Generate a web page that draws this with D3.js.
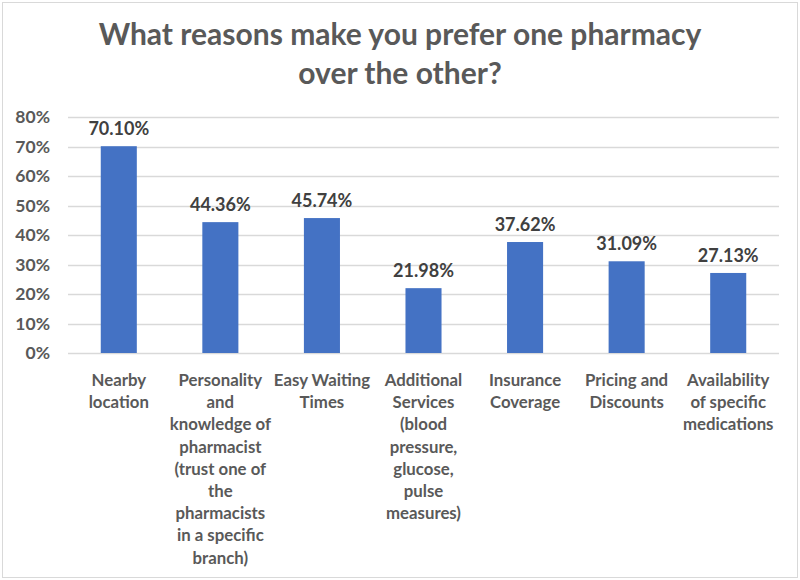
<!DOCTYPE html>
<html>
<head>
<meta charset="utf-8">
<script src="https://cdn.jsdelivr.net/npm/d3@7"></script>
<style>
  body { margin: 0; background: #fff; }
  text { font-family: Lato, "Open Sans", sans-serif; }
</style>
</head>
<body>
<div id="chart"></div>
<script>
var categories = [
  "Nearby\nlocation",
  "Personality\nand\nknowledge of\npharmacist\n(trust one of\nthe\npharmacists\nin a specific\nbranch)",
  "Easy Waiting\nTimes",
  "Additional\nServices\n(blood\npressure,\nglucose,\npulse\nmeasures)",
  "Insurance\nCoverage",
  "Pricing and\nDiscounts",
  "Availability\nof specific\nmedications"
];
var values = [70.10, 44.36, 45.74, 21.98, 37.62, 31.09, 27.13];
var yTicks = [0, 10, 20, 30, 40, 50, 60, 70, 80];
var titleLines = ["What reasons make you prefer one pharmacy", "over the other?"];

var width = 800, height = 580;
var margin = { top: 117, left: 68, right: 21, bottom: 227 };

var svg = d3.select("#chart").append("svg")
            .attr("width", width)
            .attr("height", height);

svg.append("rect")
   .attr("x", 2.5).attr("y", 2.5)
   .attr("width", width - 5).attr("height", height - 5)
   .attr("fill", "#fff")
   .attr("stroke", "#d9d9d9");

// title
svg.append("g").selectAll("text")
   .data(titleLines)
 .enter().append("text")
   .attr("x", width / 2)
   .attr("y", (d, i) => 45 + i * 39)
   .attr("text-anchor", "middle")
   .attr("fill", "#595959")
   .style("font-size", "30px")
   .style("font-weight", "bold")
   .text(d => d);

var x = d3.scaleBand()
          .domain(categories)
          .range([margin.left, width - margin.right])
          .paddingInner(0.645)
          .paddingOuter(0.3225);

var y = d3.scaleLinear()
          .domain([0, 80])
          .range([height - margin.bottom, margin.top]);

// gridlines
svg.append("g")
   .selectAll("line")
   .data(yTicks)
 .enter().append("line")
   .attr("x1", margin.left)
   .attr("x2", width - margin.right)
   .attr("y1", d => Math.round(y(d)) + 0.5)
   .attr("y2", d => Math.round(y(d)) + 0.5)
   .attr("stroke", "#d9d9d9")
   .attr("stroke-width", 1.5);

// y axis labels
var yAxis = svg.append("g")
   .attr("transform", "translate(" + margin.left + ",0)")
   .call(d3.axisLeft(y).tickValues(yTicks).tickFormat(d => d + "%").tickSize(0).tickPadding(18));
yAxis.select(".domain").remove();
yAxis.selectAll("text")
     .attr("fill", "#595959")
     .style("font-family", "Lato, sans-serif")
     .style("font-size", "17.5px")
     .style("font-weight", "bold");

// bars
svg.append("g")
   .selectAll("rect")
   .data(values)
 .enter().append("rect")
   .attr("x", (d, i) => x(categories[i]))
   .attr("width", x.bandwidth())
   .attr("y", d => y(d))
   .attr("height", d => y(0) - y(d))
   .attr("fill", "#4472c4");

// value labels
svg.append("g")
   .selectAll("text")
   .data(values)
 .enter().append("text")
   .attr("x", (d, i) => x(categories[i]) + x.bandwidth() / 2)
   .attr("y", d => y(d) - 11)
   .attr("text-anchor", "middle")
   .attr("fill", "#404040")
   .style("font-size", "18px")
   .style("font-weight", "bold")
   .text(d => d.toFixed(2) + "%");

// category labels
var cats = svg.append("g")
   .selectAll("text")
   .data(categories)
 .enter().append("text")
   .attr("x", d => x(d) + x.bandwidth() / 2)
   .attr("y", 386)
   .attr("text-anchor", "middle")
   .attr("fill", "#595959")
   .style("font-size", "16.8px")
   .style("font-weight", "bold");

cats.selectAll("tspan")
    .data(d => d.split("\n"))
  .enter().append("tspan")
    .attr("x", function() { return d3.select(this.parentNode).attr("x"); })
    .attr("dy", (d, i) => i === 0 ? 0 : 22.2)
    .text(d => d);
</script>
</body>
</html>
